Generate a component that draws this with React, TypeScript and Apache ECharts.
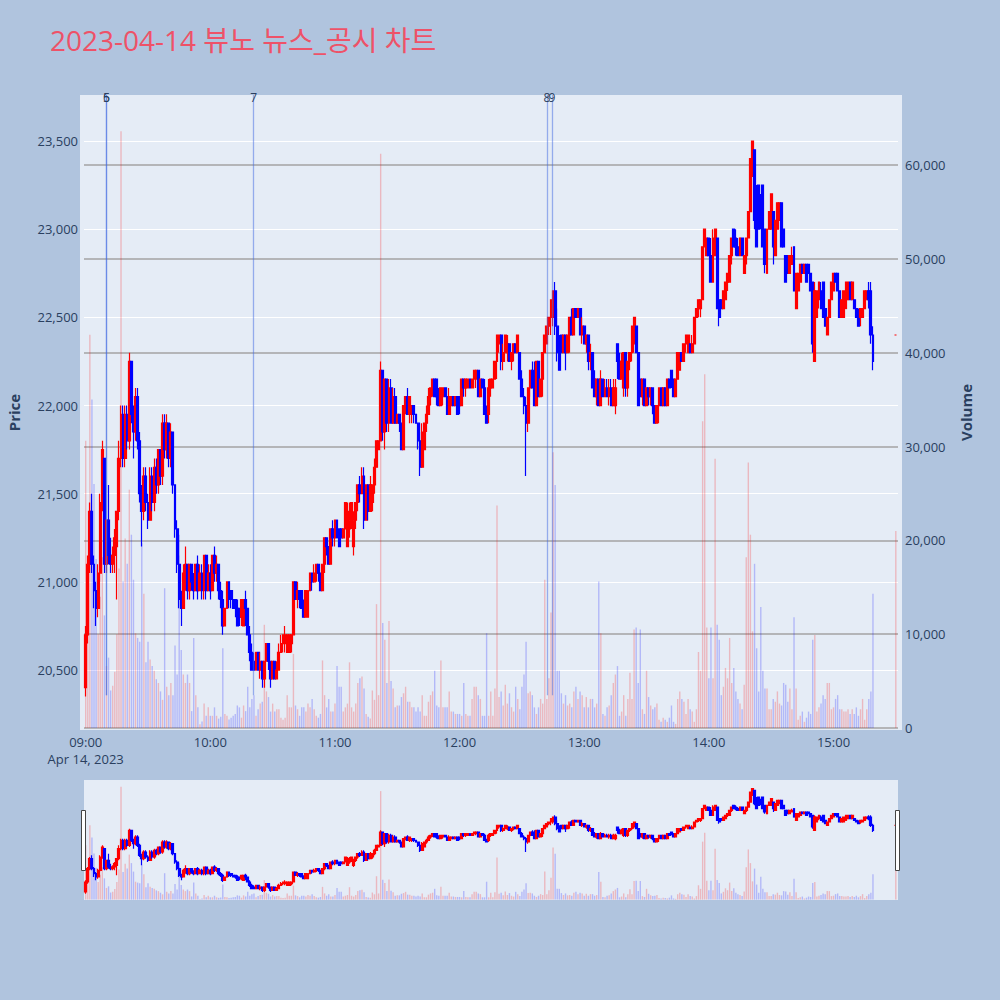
import React, { useEffect, useRef } from 'react';
import * as echarts from 'echarts';

// ---- data ----
const chartTitle = '2023-04-14 뷰노 뉴스_공시 차트';
const sessionStart = '09:00:00';
const closingTime = '15:30:00';
const xRange = ['08:59:31', '15:30:43'];
const priceRange = [20160, 23761];
const volumeRange = [-213, 67460];
const dateLabel = 'Apr 14, 2023';

// one-minute candles from 09:00 to 15:19, each [open, close, low, high]
const candles: number[][] = [
  [20400,20700,20350,20750],[20700,21100,20650,21150],[21100,21400,21050,21450],[21400,21100,21050,21500],[21100,20950,20850,21150],
  [20950,20850,20750,21000],[20850,21050,20800,21100],[21050,21450,21000,21500],[21450,21750,21400,21800],[21700,21100,21050,21700],
  [21100,21350,21050,21350],[21350,21150,21100,21550],[21150,21100,21050,21250],[21100,21150,21050,21200],[21150,21250,21050,21300],
  [21200,21400,20900,21400],[21400,21700,21350,21800],[21700,21950,21650,22000],[21950,21700,21650,22000],[21700,21950,21650,22000],
  [21950,21800,21750,22000],[21800,22250,21750,22300],[22250,21950,21900,22250],[21950,21850,21700,22000],[21850,22050,21800,22100],
  [22050,21800,21750,22100],[21800,21500,21450,21850],[21500,21400,21200,21550],[21400,21600,21350,21650],[21600,21450,21400,21650],
  [21450,21350,21300,21500],[21350,21600,21350,21650],[21600,21450,21400,21650],[21450,21650,21400,21700],[21650,21550,21500,21700],
  [21550,21750,21500,21750],[21750,21600,21550,21750],[21600,21900,21550,21950],[21900,21750,21700,21950],[21750,21900,21700,21950],
  [21900,21700,21650,21900],[21700,21850,21650,21900],[21850,21550,21500,21850],[21550,21300,21250,21550],[21300,21100,21050,21350],
  [21100,20900,20850,21150],[20900,20850,20750,20950],[20850,21050,20850,21100],[21050,21100,20950,21200],[21100,20950,20900,21100],
  [20950,21100,20900,21100],[21100,21000,20950,21100],[21000,20950,20900,21050],[20950,21100,20950,21100],[21100,20950,20900,21150],
  [20950,21050,20950,21100],[21050,20950,20900,21100],[20950,21150,20900,21150],[21150,20950,20900,21150],[20950,21050,20950,21100],
  [21050,20950,20900,21100],[20950,21150,20950,21150],[21150,21050,21000,21200],[21050,21100,21000,21150],[21100,20950,20900,21100],
  [20950,20900,20850,21000],[20900,20750,20700,20950],[20750,20850,20750,20850],[20850,21000,20850,21000],[21000,20900,20850,21000],
  [20950,20900,20850,20950],[20900,20850,20850,20900],[20900,20850,20800,20900],[20850,20750,20750,20900],[20850,20800,20750,20850],
  [20800,20900,20750,20900],[20750,20900,20750,20900],[20900,20850,20750,20950],[20850,20700,20700,20850],[20700,20600,20550,20750],
  [20600,20500,20500,20650],[20550,20500,20500,20600],[20500,20600,20500,20600],[20600,20500,20500,20600],[20500,20550,20450,20600],
  [20550,20450,20400,20550],[20450,20550,20400,20550],[20550,20650,20550,20650],[20650,20550,20500,20650],[20550,20450,20400,20550],
  [20450,20550,20450,20550],[20550,20450,20450,20550],[20450,20500,20450,20550],[20500,20600,20500,20650],[20600,20650,20600,20700],
  [20650,20700,20600,20700],[20650,20700,20600,20750],[20600,20700,20600,20700],[20600,20700,20600,20700],[20650,20700,20600,20700],
  [20700,21000,20700,21000],[21000,20900,20900,21000],[20900,20950,20850,21000],[20950,20900,20850,20950],[20950,20850,20850,20950],
  [20850,20800,20800,20900],[20800,20950,20800,20950],[20800,20950,20800,20950],[20950,21050,20950,21050],[21050,21000,20950,21050],
  [21000,21050,21000,21100],[21050,21100,21000,21100],[21100,21050,21000,21100],[21050,20950,20950,21050],[20950,21100,20950,21100],
  [21100,21250,21050,21250],[21250,21200,21150,21250],[21200,21100,21100,21200],[21100,21300,21100,21300],[21300,21250,21200,21350],
  [21250,21350,21200,21350],[21350,21250,21250,21350],[21300,21200,21200,21300],[21300,21250,21250,21300],[21250,21300,21250,21300],
  [21300,21450,21300,21450],[21200,21400,21200,21450],[21300,21350,21250,21450],[21350,21450,21300,21450],[21200,21350,21150,21400],
  [21350,21450,21300,21450],[21450,21550,21400,21550],[21550,21500,21450,21600],[21500,21600,21500,21650],[21600,21350,21300,21650],
  [21350,21550,21350,21550],[21550,21400,21350,21550],[21400,21550,21400,21600],[21450,21550,21400,21550],[21550,21650,21500,21700],
  [21650,21800,21650,21800],[21750,21800,21750,21800],[21800,22200,21800,22250],[22200,21850,21800,22200],[21850,22150,21750,22150],
  [22150,21900,21850,22150],[21900,22100,21850,22150],[22100,21900,21900,22150],[21900,22050,21900,22100],[22050,21900,21900,22100],
  [21900,21950,21900,21950],[21950,21900,21850,21950],[21900,21750,21750,21900],[21750,22000,21750,22000],[22000,22050,21950,22050],
  [22050,21950,21950,22100],[21950,22050,21900,22050],[21950,22000,21900,22000],[22000,21950,21900,22000],[21950,21900,21900,21950],
  [21900,21800,21750,21900],[21800,21650,21600,21850],[21650,21850,21650,21900],[21750,21900,21750,21900],[21900,21950,21850,22000],
  [21950,22050,21950,22100],[22050,22100,22000,22100],[22100,22150,22050,22150],[22150,22050,22050,22150],[22150,22050,22000,22150],
  [22050,22000,22000,22100],[22000,22100,22000,22100],[22050,22100,22000,22100],[22100,22050,22050,22100],[22050,21950,21950,22050],
  [21950,22050,21950,22100],[22000,22050,22000,22050],[22050,22000,22000,22050],[22000,22050,22000,22050],[22050,21950,21950,22050],
  [22050,22000,21950,22050],[22000,22150,22000,22150],[22150,22100,22050,22150],[22100,22150,22050,22150],[22100,22150,22100,22150],
  [22150,22100,22100,22150],[22100,22150,22100,22150],[22150,22200,22100,22200],[22150,22200,22100,22200],[22200,22050,22050,22200],
  [22050,22150,22050,22150],[22150,22100,22100,22150],[22100,21950,21950,22150],[21950,21900,21900,22000],[21950,22100,21900,22150],
  [22100,22150,22050,22150],[22100,22150,22100,22150],[22150,22250,22150,22250],[22250,22400,22150,22400],[22350,22400,22300,22400],
  [22400,22250,22200,22400],[22250,22300,22200,22350],[22300,22400,22300,22400],[22300,22350,22250,22400],[22350,22250,22250,22350],
  [22250,22300,22200,22300],[22300,22350,22250,22350],[22350,22300,22300,22350],[22300,22400,22300,22400],[22300,22150,22150,22300],
  [22150,22050,22050,22200],[22050,22000,21950,22100],[22000,21900,21600,22050],[21900,22100,21850,22100],[22100,22200,22050,22200],
  [22200,22100,22100,22250],[22100,22000,22000,22250],[22000,22250,22000,22250],[22250,22050,22050,22250],[22050,22150,22050,22150],
  [22150,22300,22050,22300],[22300,22400,22300,22400],[22350,22450,22350,22450],[22450,22500,22400,22500],[22500,22600,22400,22600],
  [22500,22650,22450,22650],[22650,22450,22400,22700],[22450,22300,22250,22550],[22300,22200,22200,22400],[22400,22300,22300,22400],
  [22300,22400,22300,22400],[22400,22300,22200,22400],[22300,22400,22300,22400],[22400,22500,22300,22500],[22500,22400,22400,22550],
  [22400,22550,22400,22550],[22550,22500,22500,22550],[22500,22550,22500,22550],[22550,22400,22400,22550],[22400,22450,22350,22500],
  [22450,22350,22350,22450],[22350,22400,22300,22400],[22400,22250,22200,22400],[22250,22300,22200,22350],[22300,22100,22100,22300],
  [22150,22050,22050,22200],[22050,22150,22000,22150],[22150,22000,22000,22150],[22000,22150,22000,22200],[22150,22050,22050,22150],
  [22050,22100,22050,22150],[22100,22050,22050,22150],[22050,22100,22000,22150],[22100,22000,22000,22150],[22000,22100,22000,22150],
  [22000,22100,21950,22150],[22350,22250,22150,22350],[22250,22150,22150,22300],[22150,22250,22150,22300],[22100,22300,22050,22300],
  [22300,22100,22050,22300],[22100,22250,22050,22250],[22250,22300,22200,22300],[22300,22450,22250,22450],[22350,22500,22300,22500],
  [22450,22300,22300,22450],[22300,22000,22000,22300],[22150,22050,22050,22150],[22050,22150,22000,22150],[22150,22000,22000,22150],
  [22000,22100,22000,22100],[22100,22050,22000,22100],[22050,22100,22000,22100],[22100,22000,21950,22100],[22000,21900,21900,22000],
  [21900,22000,21900,22000],[22000,22100,21900,22100],[22100,22000,22000,22100],[22000,22100,22000,22100],[22100,22000,22000,22100],
  [22000,22150,22000,22150],[22150,22100,22100,22150],[22200,22150,22100,22200],[22150,22050,22050,22150],[22050,22150,22050,22150],
  [22150,22300,22150,22300],[22200,22300,22200,22300],[22300,22250,22250,22300],[22250,22350,22250,22350],[22350,22400,22300,22400],
  [22300,22400,22300,22400],[22350,22300,22300,22350],[22300,22350,22300,22400],[22350,22500,22350,22500],[22500,22550,22500,22550],
  [22550,22600,22500,22600],[22550,22600,22500,22600],[22600,22900,22600,22900],[22900,23000,22900,23000],[22850,22950,22850,22950],
  [22950,22850,22850,22950],[22850,22700,22700,22950],[22700,22950,22700,23000],[22850,23000,22850,23000],[22950,22550,22550,22950],
  [22600,22500,22450,22600],[22600,22550,22550,22600],[22550,22650,22550,22650],[22600,22700,22600,22700],[22700,22750,22650,22750],
  [22700,22850,22700,22850],[22850,22950,22800,22950],[23000,22900,22900,23000],[22950,22900,22850,23000],[22900,22850,22850,22950],
  [22850,22950,22850,22950],[22950,22850,22850,22950],[22750,22850,22750,22850],[22850,22950,22800,22950],[22950,23100,22950,23100],
  [23100,23400,23100,23400],[23300,23500,23300,23500],[23450,23050,23000,23450],[23200,22900,22900,23250],[23250,23000,23000,23250],
  [23150,23050,23000,23200],[23250,22900,22900,23250],[23000,22800,22750,23000],[22750,23000,22750,23000],[23000,23100,23000,23100],
  [23000,23200,23000,23200],[23100,22900,22800,23100],[22850,23050,22850,23050],[23000,23150,23000,23150],[23050,23150,23050,23150],
  [23150,22900,22900,23150],[23000,22900,22900,23000],[22850,22700,22700,22850],[22850,22750,22750,22850],[22750,22850,22750,22850],
  [22800,22850,22800,22900],[22900,22650,22650,22900],[22550,22750,22550,22750],[22650,22750,22650,22750],[22700,22800,22700,22800],
  [22800,22750,22750,22800],[22750,22800,22750,22800],[22800,22700,22700,22800],[22800,22750,22750,22800],[22750,22650,22650,22750],
  [22700,22350,22300,22700],[22250,22650,22250,22700],[22500,22650,22500,22650],[22600,22700,22550,22700],[22650,22550,22550,22700],
  [22700,22500,22500,22700],[22550,22450,22450,22550],[22400,22500,22400,22500],[22500,22600,22500,22600],[22600,22700,22600,22700],
  [22650,22750,22650,22750],[22750,22700,22700,22750],[22750,22650,22650,22750],[22650,22500,22500,22650],[22500,22600,22500,22600],
  [22500,22650,22500,22650],[22550,22700,22550,22700],[22600,22700,22600,22700],[22700,22600,22600,22700],[22600,22700,22600,22700],
  [22600,22550,22550,22600],[22550,22500,22500,22550],[22500,22450,22450,22550],[22500,22550,22450,22550],[22500,22550,22500,22550],
  [22550,22650,22550,22650],[22600,22650,22600,22650],[22650,22600,22550,22700],[22650,22400,22350,22700],[22400,22250,22200,22450],
];
// closing single-price auction at 15:30
const closingCandle = [22400, 22400, 22400, 22400];

// volume per minute (09:00 .. 15:19), then the 15:30 auction
const volumes: number[] = [
  30600,18000,41900,35000,26000,18000,10000,14000,18200,12000,
  6600,7500,4000,4500,6000,10000,17000,63600,15600,20200,
  17500,25400,20600,15800,10100,9600,9200,19700,14300,7000,
  9200,7300,6600,6100,5200,4800,3900,3000,14900,4400,
  3500,4800,3500,8800,5700,20600,8300,5700,4800,5700,
  4800,1800,9600,3500,2200,400,700,2600,1300,2200,
  1300,1300,2200,1300,1000,1200,8500,1500,1300,900,
  1100,1300,1500,2400,2200,1100,2400,1800,4400,2200,
  3100,3500,1300,2000,2600,2800,11000,3900,3300,1750,
  2600,1750,2000,2000,1100,880,1100,3500,2200,2200,
  7900,2400,2000,1300,2200,2200,1750,2600,2200,3100,
  2000,1300,1100,1500,7200,3500,2200,3100,1750,1750,
  2600,6600,4400,4400,1750,2200,2600,7000,2200,1750,
  2600,4800,5300,5500,4200,1500,1200,1000,4000,3000,
  13200,3500,61200,11200,9400,4800,11400,5000,4200,2200,
  2400,2400,3300,3700,4400,2800,2800,2200,2200,1750,
  2200,1750,3500,1300,1300,2800,3500,3900,6100,2400,
  2200,7200,2200,2200,2200,3900,1750,1750,1500,1500,
  1500,1300,4800,1500,1300,1300,3100,4400,4400,3500,
  3100,1300,1300,10100,1300,3900,1300,4200,23700,3300,
  3900,2400,4600,2600,3700,2200,1750,4400,3100,2000,
  4400,5700,9200,3700,3900,3500,2200,1500,2200,3100,
  2600,15800,3100,5300,12300,29400,25900,6100,6100,3700,
  2600,3500,2400,2600,2200,3900,4400,3100,3900,3500,
  2200,3300,2200,3100,3100,2200,2600,15600,10100,1500,
  1300,2200,2400,3500,4800,5700,6600,1300,1750,3500,
  1300,3100,5900,3100,10500,10700,4800,10500,2000,1500,
  6100,3300,2400,2000,2200,2600,880,660,1100,880,
  660,1100,2400,660,440,3100,3900,3100,2800,1500,
  3100,2000,1750,660,2000,8100,6100,32700,37700,10700,
  5300,10700,5300,28700,11000,9400,3500,4400,6400,5300,
  9600,4800,6400,3900,3100,2600,2000,4600,18200,28300,
  20600,10300,17500,8500,3900,12900,6100,4200,4200,2000,
  2000,3100,2800,3900,2600,2400,4800,4600,2800,4200,
  2000,11800,4200,880,1300,1750,660,1100,1750,1500,
  9400,9900,1750,2200,2600,3500,3100,4800,4800,2000,
  2200,3100,3500,2000,2000,1750,1750,2000,1500,2000,
  1500,2200,1300,2000,3100,880,2000,3100,3900,14300,
  21000,
];

// news / disclosure markers
const newsTimes = ['09:10:00', '09:10:00', '10:20:50', '12:42:00', '12:44:30'];
const newsLabels = ['5', '6', '7', '8', '9'];
const newsLineBottomVolume = 3500;

// ---- styling ----
const UP = '#ff0000';
const DOWN = '#0000ff';
const UP_VOL = 'rgba(255,0,0,0.22)';
const DOWN_VOL = 'rgba(0,0,255,0.22)';
const FONT = '"Open Sans", "Noto Sans CJK KR", sans-serif';
const AXIS_TEXT = '#2a3f5f';

function ts(hms: string): number {
  const [h, m, s] = hms.split(':').map(Number);
  return new Date(2023, 3, 14, h, m, s || 0).getTime();
}
function pad(n: number) {
  return n < 10 ? '0' + n : '' + n;
}

export default function App() {
  const ref = useRef<HTMLDivElement>(null);

  useEffect(() => {
    if (!ref.current) return;
    const chart = echarts.init(ref.current, undefined, { renderer: 'svg' });

    const t0 = ts(sessionStart);
    const allCandles = candles.concat([closingCandle]);
    const times = candles.map((_, i) => t0 + i * 60000).concat([ts(closingTime)]);

    const candleData = allCandles.map((c, i) => [times[i], c[0], c[1], c[2], c[3]]);
    const isUp = allCandles.map((c, i) => {
      if (c[1] > c[0]) return true;
      if (c[1] < c[0]) return false;
      return i === 0 ? true : allCandles[i - 1][1] <= c[1];
    });
    const volData = volumes.map((v, i) => ({
      value: [times[i], v],
      itemStyle: { color: isUp[i] ? UP_VOL : DOWN_VOL },
    }));

    const xMin = ts(xRange[0]);
    const xMax = ts(xRange[1]);

    const candleStyle = {
      color: UP,
      color0: DOWN,
      borderColor: UP,
      borderColor0: DOWN,
      borderWidth: 1.2,
    };

    const option: any = {
      animation: false,
      backgroundColor: '#B0C4DE',
      textStyle: { fontFamily: FONT },
      title: {
        text: chartTitle,
        left: 45,
        top: 21,
        textStyle: { color: '#EE5268', fontSize: 28, fontWeight: 'normal', fontFamily: FONT },
      },
      graphic: [
        {
          type: 'rect',
          z: -10,
          silent: true,
          shape: { x: 80, y: 95, width: 822, height: 635 },
          style: { fill: '#E5ECF6' },
        },
        {
          type: 'rect',
          z: 10,
          silent: true,
          shape: { x: 81.5, y: 810.5, width: 4, height: 60 },
          style: { fill: '#ffffff', stroke: '#444444', lineWidth: 1 },
        },
        {
          type: 'rect',
          z: 10,
          silent: true,
          shape: { x: 895.5, y: 810.5, width: 4, height: 60 },
          style: { fill: '#ffffff', stroke: '#444444', lineWidth: 1 },
        },
      ],
      grid: [
        { left: 84, right: 102, top: 95, height: 635, outerBoundsMode: 'none', containLabel: false },
        {
          left: 84, right: 102, top: 780, height: 120, show: true, backgroundColor: '#E5ECF6', borderWidth: 0,
          outerBoundsMode: 'none', containLabel: false,
        },
      ],
      xAxis: [
        {
          type: 'time',
          gridIndex: 0,
          min: xMin,
          max: xMax,
          minInterval: 3600000,
          maxInterval: 3600000,
          axisLine: { show: false },
          axisTick: { show: false },
          splitLine: { show: false },
          axisLabel: {
            color: AXIS_TEXT,
            fontSize: 13,
            fontFamily: FONT,
            margin: 3,
            lineHeight: 17,
            hideOverlap: false,
            showMinLabel: false,
            showMaxLabel: false,
            formatter: (v: number) => {
              const d = new Date(v);
              if (d.getMinutes() !== 0 || d.getSeconds() !== 0) return '';
              const s = pad(d.getHours()) + ':' + pad(d.getMinutes());
              return d.getHours() === 9 ? s + '\n' + dateLabel : s;
            },
          },
        },
        { type: 'time', gridIndex: 1, min: xMin, max: xMax, show: false },
      ],
      yAxis: [
        {
          type: 'value',
          gridIndex: 0,
          position: 'left',
          min: priceRange[0],
          max: priceRange[1],
          splitNumber: 7,
          name: 'Price',
          nameLocation: 'middle',
          nameGap: 63,
          nameRotate: 90,
          nameTextStyle: { color: AXIS_TEXT, fontSize: 15, fontWeight: 'bold', fontFamily: FONT },
          axisLine: { show: false },
          axisTick: { show: false },
          axisLabel: { color: AXIS_TEXT, fontSize: 13, fontFamily: FONT, margin: 6, showMinLabel: false, showMaxLabel: false },
          splitLine: { show: true, showMinLine: false, showMaxLine: false, lineStyle: { color: '#ffffff', width: 1 } },
        },
        {
          type: 'value',
          gridIndex: 0,
          position: 'right',
          min: volumeRange[0],
          max: volumeRange[1],
          splitNumber: 7,
          name: 'Volume',
          nameLocation: 'middle',
          nameGap: 60,
          nameRotate: 90,
          nameTextStyle: { color: AXIS_TEXT, fontSize: 15, fontWeight: 'bold', fontFamily: FONT },
          axisLine: { show: false },
          axisTick: { show: false },
          axisLabel: { color: AXIS_TEXT, fontSize: 13, fontFamily: FONT, margin: 7, showMinLabel: false, showMaxLabel: false },
          splitLine: { show: true, showMinLine: false, showMaxLine: false, lineStyle: { color: '#a3a3a3', width: 1.5 } },
        },
        { type: 'value', gridIndex: 1, min: priceRange[0], max: priceRange[1], show: false, splitLine: { show: false } },
        { type: 'value', gridIndex: 1, min: volumeRange[0], max: volumeRange[1], show: false, splitLine: { show: false } },
      ],
      series: [
        {
          type: 'candlestick',
          xAxisIndex: 0,
          yAxisIndex: 0,
          data: candleData,
          encode: { x: 0, y: [1, 2, 3, 4] },
          barWidth: 2.4,
          itemStyle: candleStyle,
          z: 2,
        },
        {
          type: 'bar',
          xAxisIndex: 0,
          yAxisIndex: 1,
          data: volData,
          barWidth: 1.4,
          z: 3,
          markLine: {
            silent: true,
            symbol: ['none', 'none'],
            animation: false,
            lineStyle: { color: 'rgba(65,105,225,0.5)', width: 1.3, type: 'solid' },
            label: { show: true, position: 'end', color: AXIS_TEXT, fontSize: 12, fontFamily: FONT, distance: -8, formatter: '{b}' },
            emphasis: { disabled: true },
            data: newsTimes.map((t, i) => [
              { name: newsLabels[i], coord: [ts(t), newsLineBottomVolume] },
              { coord: [ts(t), volumeRange[1]] },
            ]),
          },
        },
        {
          type: 'candlestick',
          xAxisIndex: 1,
          yAxisIndex: 2,
          data: candleData,
          encode: { x: 0, y: [1, 2, 3, 4] },
          barWidth: 2.4,
          itemStyle: candleStyle,
          z: 2,
        },
        {
          type: 'bar',
          xAxisIndex: 1,
          yAxisIndex: 3,
          data: volData,
          barWidth: 1.4,
          z: 3,
        },
      ],
    };

    chart.setOption(option);
    return () => chart.dispose();
  }, []);

  return <div ref={ref} style={{ position: 'fixed', left: 0, top: 0, width: 1000, height: 1000 }} />;
}
